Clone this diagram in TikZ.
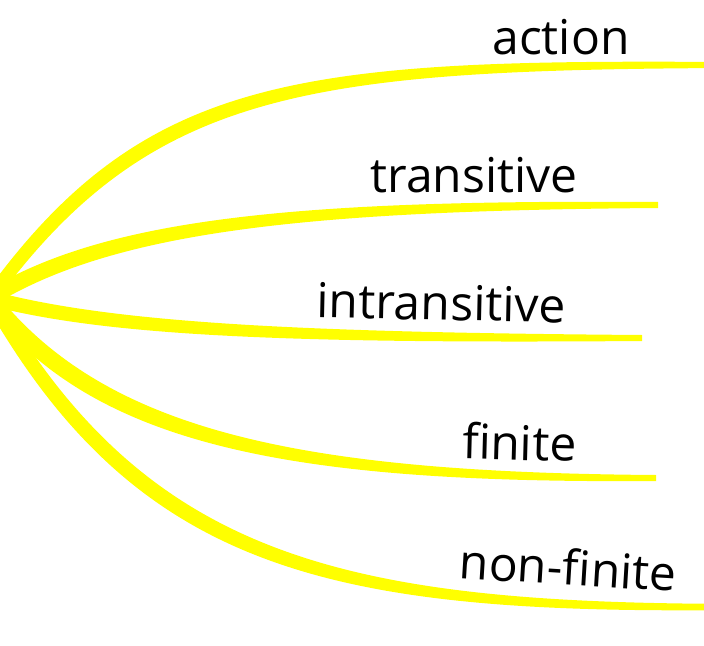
\documentclass[tikz,border=0pt]{standalone}
\usepackage{fontspec}
\setmainfont{Open Sans}
\usepackage{tikz}
\usetikzlibrary{positioning}

\definecolor{branchyellow}{RGB}{255,255,0}
\tikzset{
  branchline/.style={fill=branchyellow},
  branchlabel/.style={anchor=base, inner sep=0pt, font=\fontsize{36}{43}\selectfont}
}

\begin{document}
\begin{tikzpicture}[x=0.75pt,y=0.75pt,yscale=-1,xscale=1]
\useasboundingbox (0,0) rectangle (704,646);

\coordinate (root) at (-10,298);
\coordinate (actionEnd) at (712,65);
\coordinate (transitiveEnd) at (658,205);
\coordinate (intransitiveEnd) at (642,338);
\coordinate (finiteEnd) at (656,478);
\coordinate (nonfiniteEnd) at (712,607);

%Curve Lines [action]
\fill[branchline] ([yshift=8.2]root) .. controls ([yshift=6.2]145,85) and ([yshift=4.3]300,65) .. ([yshift=2.3]actionEnd)
  -- ([yshift=-2.3]actionEnd) .. controls ([yshift=-4.3]300,65) and ([yshift=-6.2]145,85) .. ([yshift=-8.2]root) -- cycle;

%Curve Lines [transitive]
\fill[branchline] ([yshift=7]root) .. controls ([yshift=5.4]110,225) and ([yshift=4.2]300,205) .. ([yshift=2.25]transitiveEnd)
  -- ([yshift=-2.25]transitiveEnd) .. controls ([yshift=-4.2]300,205) and ([yshift=-5.4]110,225) .. ([yshift=-7]root) -- cycle;

%Curve Lines [intransitive]
\fill[branchline] ([yshift=5.7]root) .. controls ([yshift=5.2]110,330) and ([yshift=4.2]300,338) .. ([yshift=2.25]intransitiveEnd)
  -- ([yshift=-2.25]intransitiveEnd) .. controls ([yshift=-4.2]300,338) and ([yshift=-5.2]110,330) .. ([yshift=-5.7]root) -- cycle;

%Curve Lines [finite]
\fill[branchline] ([yshift=9.5]root) .. controls ([yshift=6.2]100,440) and ([yshift=4.2]300,478) .. ([yshift=2.25]finiteEnd)
  -- ([yshift=-2.25]finiteEnd) .. controls ([yshift=-4.2]300,478) and ([yshift=-6.2]100,440) .. ([yshift=-9.5]root) -- cycle;

%Curve Lines [non-finite]
\fill[branchline] ([yshift=10]root) .. controls ([yshift=6.8]140,560) and ([yshift=4.3]330,607) .. ([yshift=2.4]nonfiniteEnd)
  -- ([yshift=-2.4]nonfiniteEnd) .. controls ([yshift=-4.3]330,607) and ([yshift=-6.8]140,560) .. ([yshift=-10]root) -- cycle;

% Text Node
\draw (561,55) node (action) [branchlabel] {action};
% Text Node
\draw (474,192) node (transitive) [branchlabel] {transitive};
% Text Node
\draw (441,320) node (intransitive) [branchlabel, rotate=-1.2] {intransitive};
% Text Node
\draw (519,460) node (finite) [branchlabel, rotate=-1.5] {finite};
% Text Node
\draw (567,585) node (nonfinite) [branchlabel, rotate=-3.5] {non-finite};

\end{tikzpicture}
\end{document}
